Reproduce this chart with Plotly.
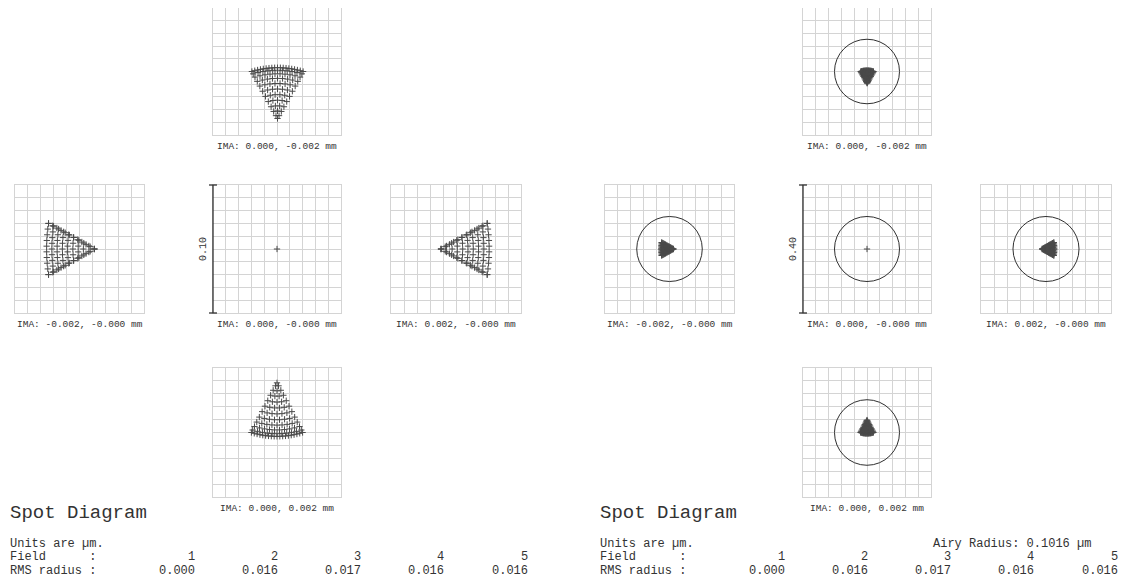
import numpy as np
import plotly.graph_objects as go

# the page puts the figure 8 px from the window's top-left corner
PAGE_MARGIN = 8
WIN_W, WIN_H = 1130, 586
W_PX, H_PX = WIN_W - PAGE_MARGIN, WIN_H - PAGE_MARGIN

# ---------------- data (units: micrometres) ----------------
field_label = ["IMA: 0.000, -0.000 mm", "IMA: 0.000, -0.002 mm", "IMA: -0.002, -0.000 mm",
               "IMA: 0.002, -0.000 mm", "IMA: 0.000, 0.002 mm"]
field_number = ["1", "2", "3", "4", "5"]
rms_radius = ["0.000", "0.016", "0.017", "0.016", "0.016"]
airy_radius = 0.1016
scale_bar = ["0.10", "0.40"]          # full box size of each panel, µm

# cell of the 3x3 layout of each field (column, row)
field_col = [1, 1, 0, 2, 1]
field_row = [1, 0, 1, 1, 2]

# spot shape: apex of the fan, its direction, length, half width, sag
field_apex_x = [0.0, 0.0004, 0.0115, -0.0115, 0.0]
field_apex_y = [0.0, -0.0370, 0.0, 0.0, 0.0385]
field_dir = ["none", "up", "left", "right", "down"]
field_length = [0.0, 0.0400, 0.0370, 0.0370, 0.0415]
field_halfwidth = [0.0, 0.0200, 0.0200, 0.0200, 0.0200]
field_sag = [0.0, 0.0030, 0.0015, 0.0015, 0.0030]

# ray rows across the fan (fraction of the length from apex) and rays per row
yfan_row_frac = [1.00, 0.95, 0.88, 0.79, 0.69, 0.58, 0.47, 0.36, 0.25, 0.15, 0.06, 0.0]
yfan_row_count = [19, 11, 10, 9, 8, 7, 6, 5, 4, 3, 2, 1]
xfan_row_frac = [1.00, 0.89, 0.78, 0.67, 0.56, 0.45, 0.34, 0.23, 0.12, 0.0]
xfan_row_count = [10, 9, 8, 7, 6, 5, 4, 3, 2, 1]
xfan_edge_count = 12

# ---------------- layout geometry (window pixels) ----------------
panel_offset = [0, 590]
col_px = [(15, 144), (213, 341), (391, 521)]
row_px = [(8, 135), (185, 313), (368, 497)]
num_right_px = [197, 280, 363, 446, 530]

GRID = "#d4d4d4"
INK = "#4a4a4a"
FONT = "Liberation Mono, Courier New, monospace"


def clamp(v):
    return min(1.0, max(0.0, v))


def px_x(x):
    return clamp((x - PAGE_MARGIN) / W_PX)


def px_y(y):
    return clamp(1 - (y - PAGE_MARGIN) / H_PX)


def fan_points(i):
    d = field_dir[i]
    if d == "none":
        return [field_apex_x[i]], [field_apex_y[i]]
    vec = {"up": (0, 1), "down": (0, -1), "left": (-1, 0), "right": (1, 0)}[d]
    perp = (-vec[1], vec[0])
    L, Wd, S = field_length[i], field_halfwidth[i], field_sag[i]
    if d in ("up", "down"):
        fr, cnt, edge = yfan_row_frac, yfan_row_count, 0
    else:
        fr, cnt, edge = xfan_row_frac, xfan_row_count, xfan_edge_count
    xs, ys = [], []

    def put(f, u):
        along = f * (L - S * u * u)
        t = u * f * Wd
        xs.append(field_apex_x[i] + along * vec[0] + t * perp[0])
        ys.append(field_apex_y[i] + along * vec[1] + t * perp[1])

    for f, n in zip(fr, cnt):
        us = [0.0] if n == 1 else np.linspace(-1, 1, n)
        for u in us:
            put(f, u)
    for f in (np.linspace(0, 1, edge) if edge else []):
        put(f, -1.0)
        put(f, 1.0)
    return xs, ys


fig = go.Figure()
layout = dict(width=W_PX, height=H_PX, autosize=False, margin=dict(l=0, r=0, t=0, b=0, pad=0),
              paper_bgcolor="white", plot_bgcolor="white", showlegend=False,
              shapes=[], annotations=[])

k = 0
for p, off in enumerate(panel_offset):
    half = float(scale_bar[p]) / 2
    for i in range(len(field_label)):
        k += 1
        xa = "x" if k == 1 else f"x{k}"
        ya = "y" if k == 1 else f"y{k}"
        x0, x1 = col_px[field_col[i]]
        y0, y1 = row_px[field_row[i]]
        dom_x = [px_x(x0 + off), px_x(x1 + off)]
        dom_y = [px_y(y1), px_y(y0)]
        common = dict(range=[-half, half], tick0=0, dtick=half / 5, showgrid=True, gridcolor=GRID,
                      gridwidth=1, zeroline=False, showticklabels=False, ticks="", showline=True,
                      mirror=True, linecolor=GRID, linewidth=1, fixedrange=True)
        layout["xaxis" if k == 1 else f"xaxis{k}"] = dict(domain=dom_x, anchor=ya, **common)
        layout["yaxis" if k == 1 else f"yaxis{k}"] = dict(domain=dom_y, anchor=xa, **common)

        xs, ys = fan_points(i)
        fig.add_trace(go.Scatter(x=xs, y=ys, xaxis=xa, yaxis=ya, mode="markers",
                                 marker=dict(symbol="cross-thin", size=4.5,
                                             line=dict(color=INK, width=1)),
                                 hoverinfo="skip"))
        if p == 1:
            layout["shapes"].append(dict(type="circle", xref=xa, yref=ya,
                                         x0=-airy_radius, x1=airy_radius,
                                         y0=-airy_radius, y1=airy_radius,
                                         line=dict(color="#303030", width=1)))
        layout["annotations"].append(dict(text=field_label[i], xref=f"{xa} domain", yref=f"{ya} domain",
                                          x=0.5, y=0, yshift=-11, xanchor="center", yanchor="middle",
                                          showarrow=False, font=dict(family=FONT, size=9.5, color="#333")))
        if field_dir[i] == "none":
            xd, yd = f"{xa} domain", f"{ya} domain"
            layout["shapes"].append(dict(type="line", xref=xd, yref=yd, x0=0, x1=0, y0=0, y1=1,
                                         line=dict(color="#303030", width=1.3)))
            for yy in (0, 1):
                layout["shapes"].append(dict(type="line", xref=xd, yref=yd, x0=-0.031, x1=0.031,
                                             y0=yy, y1=yy, line=dict(color="#303030", width=1.3)))
            layout["annotations"].append(dict(text=scale_bar[p], xref=xd, yref=yd, x=0, y=0.5,
                                              xshift=-9, xanchor="center", yanchor="middle",
                                              textangle=-90, showarrow=False,
                                              font=dict(family=FONT, size=10, color="#333")))

    # text block under each panel
    def txt(s, xpx, ypx, size=12, anchor="left"):
        layout["annotations"].append(dict(text=s, xref="paper", yref="paper", x=px_x(xpx),
                                          y=px_y(ypx), xanchor=anchor, yanchor="middle",
                                          showarrow=False, font=dict(family=FONT, size=size, color="#333")))

    txt("Spot Diagram", off + 8, 513, size=19)
    txt("Units are µm.", off + 8, 544)
    txt("Field\u00a0\u00a0\u00a0\u00a0\u00a0\u00a0:", off + 8, 557)
    txt("RMS radius :".replace(" ", "\u00a0"), off + 8, 571)
    for j in range(len(field_number)):
        txt(field_number[j], off + num_right_px[j], 557, anchor="right")
        txt(rms_radius[j], off + num_right_px[j], 571, anchor="right")
    if p == 1:
        txt(f"Airy Radius: {airy_radius:.4f} µm".replace(" ", "\u00a0"), off + 341, 544)

fig.update_layout(**layout)
fig.write_html("out.html")
